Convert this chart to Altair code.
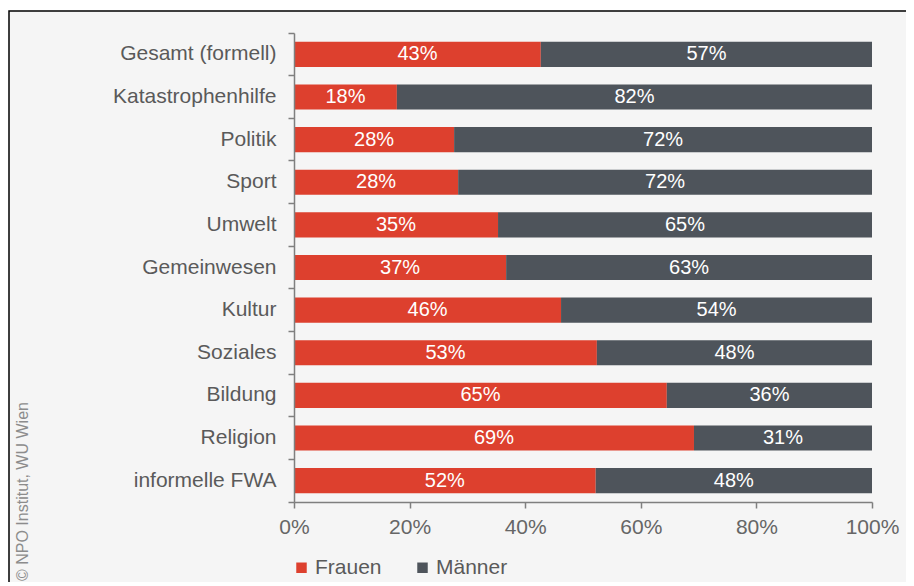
import altair as alt
import pandas as pd

categories = ["Gesamt (formell)", "Katastrophenhilfe", "Politik", "Sport", "Umwelt",
              "Gemeinwesen", "Kultur", "Soziales", "Bildung", "Religion", "informelle FWA"]
women = [42.7, 17.8, 27.7, 28.4, 35.3, 36.7, 46.2, 52.4, 64.5, 69.2, 52.2]
men = [57.3, 82.2, 72.3, 71.6, 64.7, 63.3, 53.8, 47.6, 35.5, 30.8, 47.8]
women_labels = ["43%", "18%", "28%", "28%", "35%", "37%", "46%", "53%", "65%", "69%", "52%"]
men_labels = ["57%", "82%", "72%", "72%", "65%", "63%", "54%", "48%", "36%", "31%", "48%"]
series = ["Frauen", "Männer"]
colors = ["#dd402e", "#4e545b"]
x_ticks = [0, 20, 40, 60, 80, 100]
credit = "© NPO Institut, WU Wien"

rows = []
for c, w, m, wl, ml in zip(categories, women, men, women_labels, men_labels):
    rows.append({"cat": c, "sex": series[0], "value": w, "label": wl, "ord": 0})
    rows.append({"cat": c, "sex": series[1], "value": m, "label": ml, "ord": 1})
df = pd.DataFrame(rows)

FONT = "Liberation Sans"
W, H = 578, 469

base = alt.Chart(df).transform_stack(
    stack="value", groupby=["cat"], as_=["x0", "x1"], sort=[alt.SortField("ord")]
).transform_calculate(mid="(datum.x0 + datum.x1) / 2")

y_enc = alt.Y("cat:N", sort=categories,
              scale=alt.Scale(paddingInner=0, paddingOuter=0),
              axis=alt.Axis(title=None, labelFontSize=21, labelColor="#5a5a5a",
                            labelFont=FONT, tickSize=6, tickColor="#7f7f7f",
                            domainColor="#7f7f7f", labelPadding=12,
                            bandPosition=1, tickExtra=True, domainWidth=1.5,
                            tickWidth=1.5, zindex=1))

bars = base.mark_bar(height={"band": 0.59}).encode(
    x=alt.X("x0:Q", scale=alt.Scale(domain=[0, 100]),
            axis=alt.Axis(title=None, values=x_ticks, labelExpr="datum.value + '%'",
                          labelFontSize=21, labelColor="#666666", labelFont=FONT,
                          tickSize=6, tickColor="#7f7f7f", domainColor="#7f7f7f",
                          labelPadding=8, grid=False, domainWidth=1.5, tickWidth=1.5,
                          labelFlush=False, zindex=1)),
    x2="x1:Q",
    y=y_enc,
    color=alt.Color("sex:N", scale=alt.Scale(domain=series, range=colors),
                    legend=alt.Legend(title=None, orient="none", legendX=-3, legendY=524,
                                      direction="horizontal", symbolType="square",
                                      symbolSize=110, symbolStrokeWidth=0,
                                      labelFontSize=21, labelColor="#5a5a5a",
                                      labelFont=FONT, columnPadding=30, labelOffset=3,
                                      zindex=1)),
)

texts = base.mark_text(color="white", fontSize=20, font=FONT, baseline="middle").encode(
    x="mid:Q", y=alt.Y("cat:N", sort=categories), text="label:N"
)

bg_df = pd.DataFrame({"k": [0]})
frame = alt.Chart(bg_df).mark_rect(fill="#f5f5f5", stroke="black", strokeWidth=1.5).encode(
    x=alt.value(-285), x2=alt.value(W + 60), y=alt.value(-22), y2=alt.value(H + 120)
)

credit_df = pd.DataFrame({"t": [credit]})
credit_mark = alt.Chart(credit_df).mark_text(
    angle=270, align="left", baseline="middle", fontSize=16, font=FONT, color="#8c8c8c"
).encode(x=alt.value(-271), y=alt.value(548), text="t:N")

chart = alt.layer(frame, bars, texts, credit_mark).properties(
    width=W, height=H,
    autosize=alt.AutoSizeParams(type="none"),
    padding={"left": 286, "top": 25, "right": 34, "bottom": 80},
    background="white",
).configure_view(stroke=None)

chart.save("out.html", embed_options={"renderer": "svg", "actions": False})
